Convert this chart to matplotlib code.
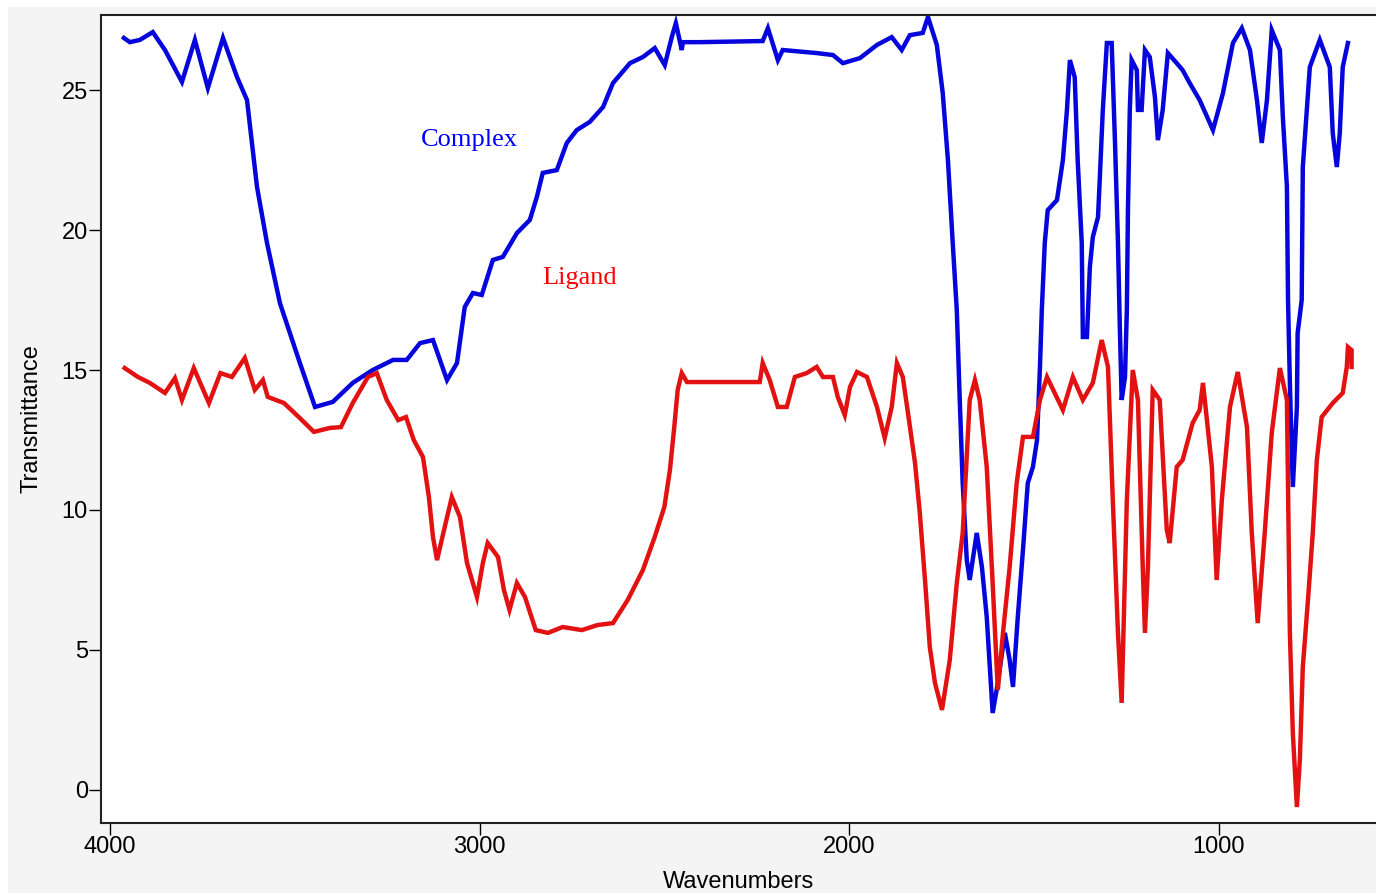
import matplotlib
matplotlib.use('Agg')
import matplotlib.pyplot as plt
from matplotlib.patches import Rectangle

# IR spectra (wavenumber cm-1, transmittance)
complex_wn = [3962, 3946, 3919, 3884, 3851, 3805, 3770, 3735, 3694, 3656, 3629, 3602, 3575,
              3540, 3486, 3445, 3397, 3343, 3289, 3234, 3197, 3161, 3126, 3088, 3061, 3040,
              3018, 2994, 2964, 2937, 2899, 2864, 2845, 2829, 2791, 2764, 2737, 2702, 2666,
              2639, 2593, 2558, 2526, 2499, 2480, 2469, 2453, 2450, 2404, 2234, 2220, 2193,
              2180, 2088, 2044, 2017, 1971, 1925, 1885, 1858, 1836, 1801, 1787, 1763, 1747,
              1733, 1720, 1709, 1701, 1693, 1682, 1674, 1655, 1641, 1628, 1612, 1598, 1579,
              1566, 1557, 1544, 1530, 1517, 1503, 1492, 1484, 1479, 1471, 1463, 1438, 1422,
              1411, 1403, 1390, 1382, 1371, 1368, 1357, 1349, 1341, 1327, 1322, 1314, 1303,
              1290, 1281, 1273, 1268, 1263, 1254, 1249, 1246, 1241, 1236, 1222, 1219, 1209,
              1200, 1187, 1173, 1165, 1152, 1138, 1114, 1098, 1079, 1052, 1016, 989, 962,
              938, 916, 897, 884, 870, 857, 835, 827, 816, 813, 808, 800, 789, 787, 776, 773,
              754, 727, 700, 692, 681, 673, 665, 651]
complex_t = [26.86, 26.71, 26.79, 27.07, 26.43, 25.29, 26.79, 25.07, 26.86, 25.46, 24.64, 21.54,
             19.54, 17.39, 15.25, 13.68, 13.86, 14.54, 15.0, 15.36, 15.36, 15.96, 16.07, 14.64,
             15.25, 17.25, 17.75, 17.68, 18.93, 19.04, 19.89, 20.36, 21.18, 22.04, 22.14, 23.11,
             23.57, 23.86, 24.39, 25.25, 25.96, 26.18, 26.5, 25.89, 26.89, 27.39, 26.43, 26.71,
             26.71, 26.75, 27.21, 26.07, 26.43, 26.32, 26.25, 25.96, 26.14, 26.61, 26.89, 26.43,
             26.96, 27.04, 27.61, 26.61, 24.89, 22.5, 19.54, 17.14, 13.93, 10.96, 8.21, 7.5,
             9.18, 7.96, 6.18, 2.75, 3.82, 5.61, 4.64, 3.68, 6.18, 8.57, 10.96, 11.54, 12.5,
             15.11, 17.14, 19.54, 20.71, 21.07, 22.5, 24.29, 26.07, 25.46, 22.5, 19.54, 16.18,
             16.18, 18.68, 19.75, 20.46, 21.89, 24.29, 26.68, 26.68, 23.11, 19.54, 16.54, 13.93,
             14.75, 17.14, 20.71, 24.29, 26.07, 25.71, 24.29, 24.29, 26.43, 26.18, 24.75, 23.21,
             24.29, 26.32, 25.96, 25.71, 25.25, 24.64, 23.57, 24.89, 26.68, 27.21, 26.43, 24.64,
             23.11, 24.64, 27.14, 26.43, 24.04, 21.54, 17.5, 14.54, 10.82, 13.68, 16.32, 17.5,
             22.25, 25.82, 26.79, 25.82, 23.46, 22.25, 23.46, 25.82, 26.68]

ligand_wn = [3960, 3924, 3892, 3851, 3824, 3805, 3773, 3732, 3701, 3670, 3635, 3608, 3586,
             3573, 3529, 3489, 3448, 3405, 3375, 3343, 3302, 3278, 3251, 3220, 3199, 3178,
             3153, 3137, 3126, 3115, 3096, 3075, 3053, 3034, 3007, 2991, 2978, 2950, 2934,
             2919, 2899, 2877, 2848, 2815, 2775, 2723, 2681, 2639, 2599, 2558, 2526, 2500,
             2485, 2474, 2464, 2453, 2439, 2242, 2234, 2215, 2193, 2169, 2147, 2115, 2088,
             2071, 2044, 2031, 2012, 1998, 1979, 1952, 1925, 1904, 1885, 1871, 1855, 1841,
             1822, 1809, 1795, 1782, 1768, 1749, 1728, 1709, 1693, 1674, 1660, 1647, 1628,
             1612, 1598, 1584, 1566, 1547, 1530, 1503, 1484, 1465, 1422, 1395, 1368, 1341,
             1317, 1300, 1287, 1273, 1263, 1249, 1233, 1219, 1206, 1200, 1192, 1179, 1160,
             1141, 1133, 1114, 1098, 1071, 1052, 1043, 1019, 1006, 992, 970, 949, 924, 911,
             895, 876, 857, 835, 816, 808, 800, 789, 781, 773, 759, 746, 735, 722, 692, 665,
             654, 651, 641, 641]
ligand_t = [15.07, 14.75, 14.54, 14.18, 14.71, 13.93, 15.07, 13.82, 14.89, 14.75, 15.43, 14.29,
            14.64, 14.04, 13.82, 13.32, 12.79, 12.93, 12.96, 13.82, 14.75, 14.89, 13.93, 13.21,
            13.32, 12.5, 11.89, 10.46, 9.04, 8.21, 9.29, 10.46, 9.75, 8.11, 6.89, 8.11, 8.82,
            8.32, 7.14, 6.43, 7.39, 6.89, 5.71, 5.61, 5.82, 5.71, 5.89, 5.96, 6.79, 7.86, 9.04,
            10.11, 11.43, 12.86, 14.29, 14.89, 14.57, 14.57, 15.25, 14.64, 13.68, 13.68, 14.75,
            14.89, 15.11, 14.75, 14.75, 14.04, 13.39, 14.39, 14.93, 14.75, 13.68, 12.57, 13.68,
            15.25, 14.75, 13.46, 11.68, 9.89, 7.5, 5.11, 3.82, 2.86, 4.64, 7.39, 9.18, 13.93,
            14.64, 13.93, 11.54, 7.39, 3.57, 5.61, 7.96, 10.96, 12.61, 12.61, 13.93, 14.75,
            13.57, 14.75, 13.93, 14.54, 16.07, 15.11, 10.36, 5.61, 3.11, 10.36, 15.0, 13.93,
            7.96, 5.61, 7.96, 14.29, 13.93, 9.29, 8.82, 11.54, 11.79, 13.11, 13.57, 14.54,
            11.54, 7.5, 10.36, 13.68, 14.93, 12.96, 9.18, 5.96, 9.18, 12.75, 15.07, 13.93,
            5.61, 2.04, -0.61, 1.07, 4.39, 6.79, 9.18, 11.79, 13.32, 13.82, 14.18, 15.11,
            15.82, 15.71, 15.11]

x_ticks = [4000, 3000, 2000, 1000]
y_ticks = [0, 5, 10, 15, 20, 25]

fig = plt.figure(figsize=(13.76, 8.94), dpi=100, facecolor='white')
fig.patches.append(Rectangle((8 / 1376, 1 / 894), 1, 886 / 894, transform=fig.transFigure,
                             facecolor='#f4f4f4', edgecolor='none', zorder=-10))
ax = fig.add_axes([101 / 1376, 71 / 894, 1275 / 1376, 808 / 894])
ax.set_facecolor('white')

ax.plot(complex_wn, complex_t, color='#0505dc', lw=3.2, solid_joinstyle='miter')
ax.plot(ligand_wn, ligand_t, color='#e31212', lw=3.2, solid_joinstyle='miter')

ax.text(3026, 23.2, 'Complex', color='#0000ff', fontsize=19, family='Liberation Serif',
        ha='center', va='center')
ax.text(2729, 18.3, 'Ligand', color='#ff0000', fontsize=19, family='Liberation Serif',
        ha='center', va='center')

ax.set_xlim(4024, 575)
ax.set_ylim(-1.18, 27.68)
ax.set_xticks(x_ticks)
ax.set_yticks(y_ticks)
ax.tick_params(direction='out', length=8.5, width=1, color='black', labelsize=17, pad=1)
for lab in ax.get_xticklabels() + ax.get_yticklabels():
    lab.set_family('Liberation Sans')

for side in ['left', 'bottom', 'top']:
    ax.spines[side].set_linewidth(1.5)
    ax.spines[side].set_color('#222222')
ax.spines['right'].set_visible(False)

ax.set_xlabel('Wavenumbers', fontsize=17, family='Liberation Sans', labelpad=9)
ax.set_ylabel('Transmittance', fontsize=17, family='Liberation Sans', labelpad=14)

fig.savefig('out.png', dpi=100, facecolor=fig.get_facecolor())
